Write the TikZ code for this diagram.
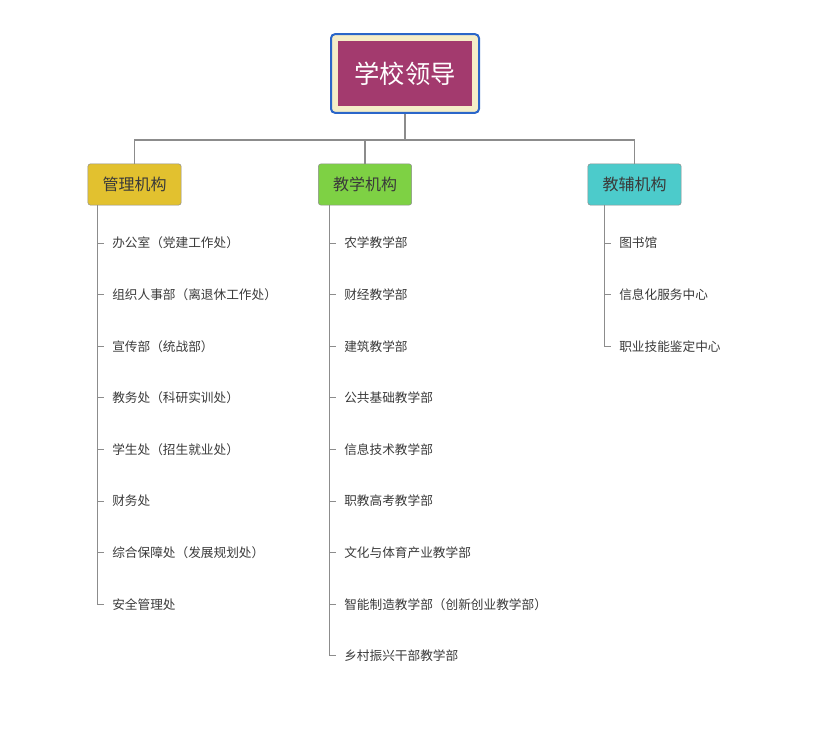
\documentclass[tikz,border=0pt]{standalone}
\usepackage{fontspec}
\setmainfont{Noto Sans CJK SC}
\usetikzlibrary{positioning}
\definecolor{rootfill}{HTML}{A33A6E}
\definecolor{rootframe}{HTML}{F5EDC8}
\definecolor{rootline}{HTML}{2B66C9}
\definecolor{mgmt}{HTML}{E2C12F}
\definecolor{teach}{HTML}{7ED144}
\definecolor{aux}{HTML}{4CCBCB}
\definecolor{link}{HTML}{8C8C8C}
\definecolor{txt}{HTML}{3A3A3A}
\tikzset{
  branch/.style={draw=link, rounded corners=2, minimum width=70pt, minimum height=31pt, font=\fontsize{12}{14}\selectfont, text=txt},
  leaf/.style={anchor=west, inner sep=0, font=\fontsize{9.5}{11}\selectfont, text=txt},
  wire/.style={draw=link, line width=1.2pt},
  twig/.style={draw=link, line width=0.6pt}
}
\begin{document}
\begin{tikzpicture}[x=0.75pt, y=-0.75pt]
	\useasboundingbox (0,0) rectangle (823,737);
	\node [draw=rootline, line width=1.5pt, rounded corners=3, fill=rootframe, minimum width=111pt, minimum height=59pt] (top) at (405,73.5) {};
	\node [fill=rootfill, text=white, minimum width=100pt, minimum height=49pt, font=\fontsize{19}{22}\selectfont] (lead) at (top) {学校领导};
	\node [branch, fill=mgmt] (mgr) at (134.5,184.5) {管理机构};
	\node [branch, fill=teach] (edu) at (365,184.5) {教学机构};
	\node [branch, fill=aux] (sup) at (634.5,184.5) {教辅机构};
	\coordinate (bus) at (405,140);
	\draw [wire] (top.south) -- (bus);
	\draw [wire] (mgr.north) |- (bus) -| (sup.north);
	\draw [wire] (edu.north) -- (edu.north |- bus);
	% leaves
	\foreach \name/\x/\list in {mgr/97/{办公室（党建工作处）,组织人事部（离退休工作处）,宣传部（统战部）,教务处（科研实训处）,学生处（招生就业处）,财务处,综合保障处（发展规划处）,安全管理处},
	  edu/329/{农学教学部,财经教学部,建筑教学部,公共基础教学部,信息技术教学部,职教高考教学部,文化与体育产业教学部,智能制造教学部（创新创业教学部）,乡村振兴干部教学部},
	  sup/604/{图书馆,信息化服务中心,职业技能鉴定中心}} {
		\foreach \item [count=\i] in \list {
			\node [leaf] (\name-\i) at (\x+15, 243+51.6*\i-51.6) {\item};
			\draw [twig] (\name.south -| \x,0) |- ([xshift=-6pt]\name-\i.west);
		}
	}
\end{tikzpicture}
\end{document}
